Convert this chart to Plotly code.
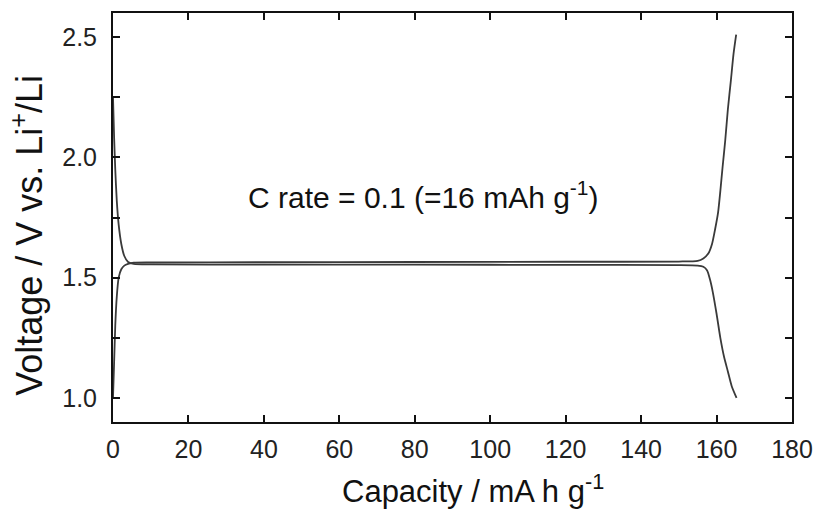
import plotly.graph_objects as go

# Discharge (lithiation) curve: capacity (mAh/g) vs voltage (V)
discharge_x = [0.0, 0.3, 0.6, 1.0, 1.5, 2.2, 3.0, 4.0, 5.5, 10, 40, 80, 120, 150, 155, 156.5, 157.5, 158.3, 159.0, 160.0, 161.0, 162.0, 163.0, 164.0, 165.3]
discharge_y = [2.25, 2.08, 1.95, 1.82, 1.72, 1.64, 1.59, 1.565, 1.557, 1.555, 1.554, 1.554, 1.553, 1.552, 1.550, 1.545, 1.530, 1.49, 1.44, 1.35, 1.25, 1.17, 1.11, 1.05, 1.00]

# Charge (delithiation) curve
charge_x = [0.0, 0.3, 0.6, 1.0, 1.5, 2.2, 3.0, 4.0, 5.5, 10, 40, 80, 120, 150, 155.0, 156.5, 157.8, 158.8, 159.6, 160.4, 161.0, 161.6, 162.3, 163.0, 163.8, 164.5, 165.2]
charge_y = [1.00, 1.15, 1.30, 1.42, 1.50, 1.535, 1.550, 1.557, 1.562, 1.563, 1.564, 1.565, 1.566, 1.567, 1.570, 1.580, 1.600, 1.640, 1.700, 1.770, 1.860, 1.960, 2.070, 2.200, 2.320, 2.430, 2.510]

x_ticks = [0, 20, 40, 60, 80, 100, 120, 140, 160, 180]
y_ticks = [1.0, 1.5, 2.0, 2.5]
y_tick_labels = ["1.0", "1.5", "2.0", "2.5"]

line_color = "#3a3a3a"
font_family = "Liberation Sans, Arial, sans-serif"

fig = go.Figure()
fig.add_trace(go.Scatter(x=discharge_x, y=discharge_y, mode="lines",
                         line=dict(color=line_color, width=1.8, shape="spline", smoothing=0.6),
                         showlegend=False, hoverinfo="skip"))
fig.add_trace(go.Scatter(x=charge_x, y=charge_y, mode="lines",
                         line=dict(color=line_color, width=1.8, shape="spline", smoothing=0.6),
                         showlegend=False, hoverinfo="skip"))

fig.add_annotation(x=0.457, y=0.555, xref="paper", yref="paper",
                   text="C rate = 0.1 (=16 mAh g<sup>-1</sup>)", showarrow=False,
                   font=dict(family=font_family, size=30, color="#111"))

# Axis titles
fig.add_annotation(x=0.530, y=-0.163, xref="paper", yref="paper",
                   text="Capacity / mA h g<sup>-1</sup>", showarrow=False,
                   xanchor="center", yanchor="middle",
                   font=dict(family=font_family, size=31, color="#111"))
fig.add_annotation(x=-0.127, y=0.457, xref="paper", yref="paper", textangle=-90,
                   text="Voltage / V vs. Li<sup>+</sup>/Li", showarrow=False,
                   xanchor="center", yanchor="middle",
                   font=dict(family=font_family, size=36, color="#111"))

fig.update_xaxes(range=[0, 180], tickvals=x_ticks, ticks="inside", ticklen=7, tickwidth=2,
                 tickcolor="#111", mirror="ticks", showline=True, linecolor="#111", linewidth=2,
                 showgrid=False, zeroline=False, ticklabelstandoff=4, automargin=False,
                 tickfont=dict(family=font_family, size=25, color="#222"))
fig.update_yaxes(range=[0.9, 2.6], tickvals=y_ticks, ticktext=y_tick_labels, ticks="inside",
                 ticklen=7, tickwidth=2, tickcolor="#111", mirror="ticks", showline=True,
                 linecolor="#111", linewidth=2, showgrid=False, zeroline=False, automargin=False,
                 minor=dict(dtick=0.25, tick0=1.0, ticks="inside", ticklen=7, tickwidth=2, tickcolor="#111"),
                 ticklabelstandoff=9,
                 tickfont=dict(family=font_family, size=25, color="#222"))

fig.update_layout(width=815, height=510, margin=dict(l=113, r=23, t=13, b=88),
                  plot_bgcolor="white", paper_bgcolor="white")

fig.write_html("out.html")
